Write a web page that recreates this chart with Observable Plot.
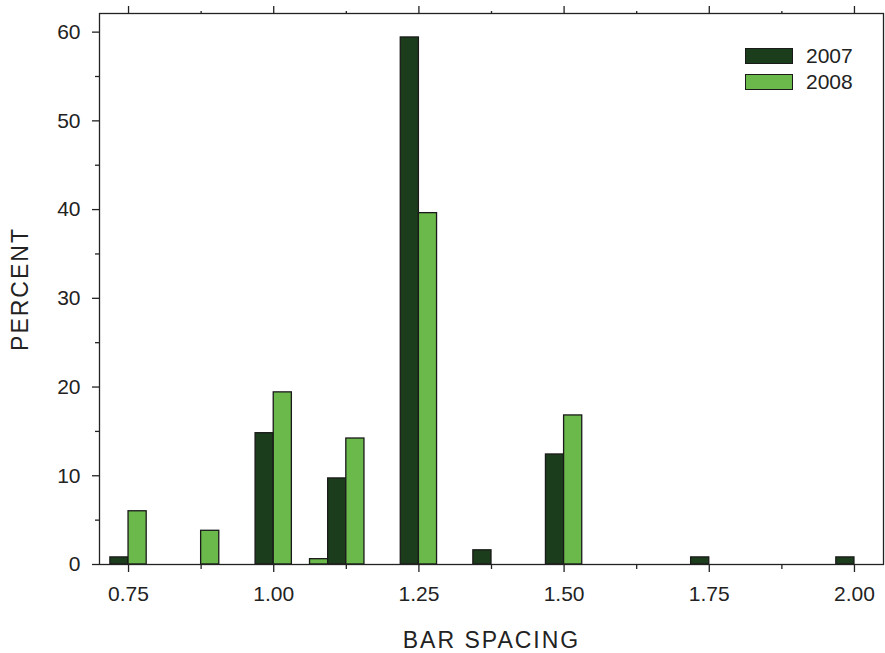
<!DOCTYPE html>
<html>
<head>
<meta charset="utf-8">
<script src="https://cdn.jsdelivr.net/npm/d3@7"></script>
<script src="https://cdn.jsdelivr.net/npm/@observablehq/plot@0.6"></script>
<style>
  html, body { margin: 0; padding: 0; background: #fff; }
  #wrap { position: relative; width: 885px; height: 653px; font-family: "Liberation Sans", Arial, sans-serif; }
  #legend { position: absolute; left: 745px; top: 43px; font-size: 21px; color: #222; }
  #legend .row { display: flex; align-items: center; height: 26px; }
  #legend .sw { width: 46px; height: 14px; border: 1.3px solid #1a1a1a; margin-right: 13px; }
</style>
</head>
<body>
<div id="wrap"></div>
<script>
// Data
const spacing = [0.75, 0.875, 1.0, 1.0625, 1.125, 1.25, 1.375, 1.5, 1.75, 2.0];
const pct2007 = [0.8, 0, 14.8, 0, 9.7, 59.4, 1.6, 12.4, 0.8, 0.8];
const pct2008 = [6.0, 3.8, 19.4, 0.6, 14.2, 39.6, 0, 16.8, 0, 0];
const years = ["2007", "2008"];
const colors = ["#1b3d1b", "#6bb84b"];
const xMajor = [0.75, 1.0, 1.25, 1.5, 1.75, 2.0];
const xMinor = [0.875, 1.125, 1.375, 1.625, 1.875];
const yMajor = [0, 10, 20, 30, 40, 50, 60];
const yMinor = [5, 15, 25, 35, 45, 55];
const xTitle = "BAR SPACING";
const yTitle = "PERCENT";
const barWidth = 1 / 32;

const bars = [];
spacing.forEach((s, i) => {
  if (pct2007[i] > 0) bars.push({year: "2007", x1: s - barWidth, x2: s, v: pct2007[i]});
  if (pct2008[i] > 0) bars.push({year: "2008", x1: s, x2: s + barWidth, v: pct2008[i]});
});

const ink = "#222";
const chart = Plot.plot({
  width: 885,
  height: 653,
  marginLeft: 99,
  marginRight: 2,
  marginTop: 13,
  marginBottom: 89,
  style: {fontFamily: "'Liberation Sans', Arial, sans-serif", fontSize: "21px", background: "#fff"},
  x: {domain: [0.7, 2.05], axis: null},
  y: {domain: [0, 62.1], axis: null},
  color: {domain: years, range: colors},
  marks: [
    Plot.rect(bars, {x1: "x1", x2: "x2", y1: 0, y2: "v", fill: "year", stroke: "#1a1a1a", strokeWidth: 1.3}),
    Plot.frame({stroke: ink, strokeWidth: 1.3}),
    Plot.axisY({ticks: yMajor, tickSize: 7, tickPadding: 12, stroke: ink, fill: ink, strokeWidth: 1.3, label: null}),
    Plot.axisY({ticks: yMinor, tickSize: 4, tickFormat: () => "", stroke: ink, strokeWidth: 1.3, label: null}),
    Plot.axisX({ticks: xMajor, tickSize: 8, tickPadding: 14, tickFormat: d3.format(".2f"), stroke: ink, fill: ink, strokeWidth: 1.3, label: null}),
    Plot.axisX({ticks: xMinor, tickSize: 5, tickFormat: () => "", stroke: ink, strokeWidth: 1.3, label: null}),
    Plot.axisX({anchor: "top", ticks: xMajor, tickSize: 8, tickFormat: () => "", stroke: ink, strokeWidth: 1.3, label: null}),
    Plot.axisX({anchor: "top", ticks: xMinor, tickSize: 3, tickFormat: () => "", stroke: ink, strokeWidth: 1.3, label: null}),
    Plot.text([xTitle], {text: d => d, frameAnchor: "bottom", dy: 76, textAnchor: "middle", lineAnchor: "middle", fontSize: 23, fill: ink}),
    Plot.text([yTitle], {text: d => d, frameAnchor: "left", dx: -78.5, rotate: -90, textAnchor: "middle", lineAnchor: "middle", fontSize: 23, fill: ink})
  ]
});

d3.select(chart).selectAll("text")
  .filter(function() { return this.textContent === xTitle || this.textContent === yTitle; })
  .style("letter-spacing", "2px");

const wrap = document.getElementById("wrap");
wrap.appendChild(chart);
const legend = document.createElement("div");
legend.id = "legend";
years.forEach((y, i) => {
  const row = document.createElement("div");
  row.className = "row";
  const sw = document.createElement("div");
  sw.className = "sw";
  sw.style.background = colors[i];
  const t = document.createElement("span");
  t.textContent = y;
  row.appendChild(sw);
  row.appendChild(t);
  legend.appendChild(row);
});
wrap.appendChild(legend);
</script>
</body>
</html>
